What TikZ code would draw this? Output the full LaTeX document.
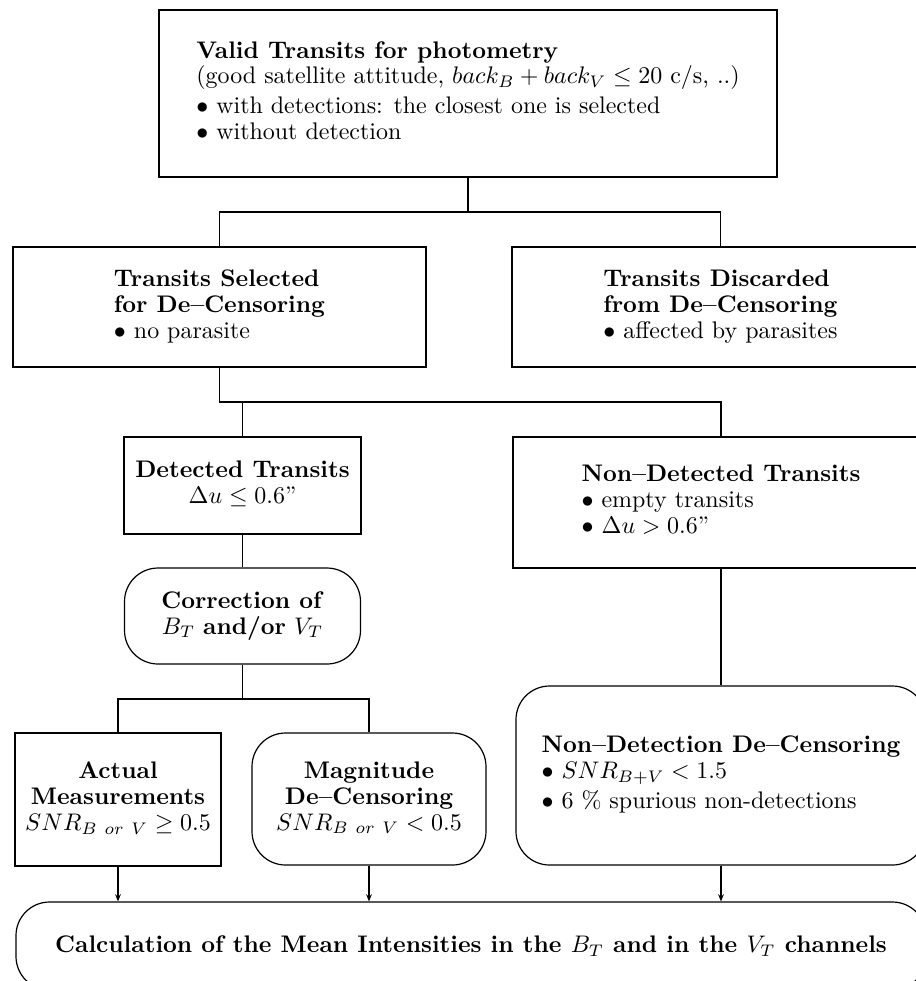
\documentclass[tikz,border=0pt]{standalone}
\usetikzlibrary{arrows.meta}
\newcommand{\lblock}[1]{\begin{tabular}{@{}l@{}}#1\end{tabular}}
\newcommand{\cblock}[1]{\begin{tabular}{@{}c@{}}#1\end{tabular}}
\begin{document}
\begin{tikzpicture}[x=0.417pt,y=-0.417pt,
  boxstyle/.style={draw,line width=0.5pt,inner sep=0pt,font=\normalsize},
  roundbox/.style={boxstyle,rounded corners=14pt},
  wh/.style 2 args={minimum width=#1*0.417pt,minimum height=#2*0.417pt},
  conn/.style={line width=0.5pt},
  arr/.style={line width=0.5pt,-{Stealth[length=3pt,width=2.4pt]}}]
\path[use as bounding box] (0,0) rectangle (916,981);
\clip (0,0) rectangle (916,981);
\renewcommand{\arraystretch}{0.9}

\node[boxstyle,wh={618}{167}] (top) at (468,93.5) {\lblock{%
\textbf{Valid Transits for photometry}\\
(good satellite attitude, $back_B+back_V\leq 20$ c/s, ..)\\[1.5pt]
$\bullet$ with detections: the closest one is selected\\
$\bullet$ without detection}};

\node[boxstyle,wh={413}{120}] (sel) at (219.5,307) {\lblock{%
\textbf{Transits Selected}\\
\textbf{for De--Censoring}\\
$\bullet$ no parasite}};

\node[boxstyle,wh={417}{120}] (dis) at (720.5,307) {\lblock{%
\textbf{Transits Discarded}\\
\textbf{from De--Censoring}\\
$\bullet$ affected by parasites}};

\node[boxstyle,wh={237}{97}] (det) at (242.5,485.5) {\cblock{%
\textbf{Detected Transits}\\
$\Delta u\leq 0.6$''}};

\node[boxstyle,wh={416}{131}] (nondet) at (721,502.5) {\lblock{%
\textbf{Non--Detected Transits}\\
$\bullet$ empty transits\\
$\bullet$ $\Delta u>0.6$''}};

\node[roundbox,wh={236}{96}] (corr) at (242.5,616) {\cblock{%
\textbf{Correction of}\\
$B_T$ \textbf{and/or} $V_T$}};

\node[boxstyle,wh={206}{133}] (act) at (118,799.5) {\cblock{%
\textbf{Actual}\\
\textbf{Measurements}\\
$SNR_{B\ or\ V}\geq 0.5$}};

\node[roundbox,wh={234}{132}] (mag) at (369,799) {\cblock{%
\textbf{Magnitude}\\
\textbf{De--Censoring}\\
$SNR_{B\ or\ V}<0.5$}};

\node[roundbox,wh={410}{179}] (ndc) at (721,775.5) {\lblock{%
\textbf{Non--Detection De--Censoring}\\
$\bullet$ $SNR_{B+V}<1.5$\\[1.5pt]
$\bullet$ 6 \% spurious non-detections}};

\node[roundbox,wh={910}{88}] (calc) at (471,946) {%
\textbf{Calculation of the Mean Intensities in the $B_T$ and in the $V_T$ channels}};

\coordinate (j1) at (top.south |- 0,212);
\coordinate (j2) at (468,402);
\coordinate (j3) at (corr.south |- 0,699);

\draw[conn] (top.south) -- (j1);
\draw[conn] (sel.north) |- (j1) -| (dis.north);
\draw[conn] (sel.south) -- (sel.south |- j2) -| (nondet.north);
\draw[conn] (det.north) -- (det.north |- j2);
\draw[conn] (det.south) -- (corr.north);
\draw[conn] (corr.south) -- (j3);
\draw[conn] (act.north) |- (j3) -| (mag.north);
\draw[conn] (nondet.south) -- (ndc.north);
\draw[arr] (act.south) -- (act.south |- calc.north);
\draw[arr] (mag.south) -- (mag.south |- calc.north);
\draw[arr] (ndc.south) -- (ndc.south |- calc.north);
\end{tikzpicture}
\end{document}
